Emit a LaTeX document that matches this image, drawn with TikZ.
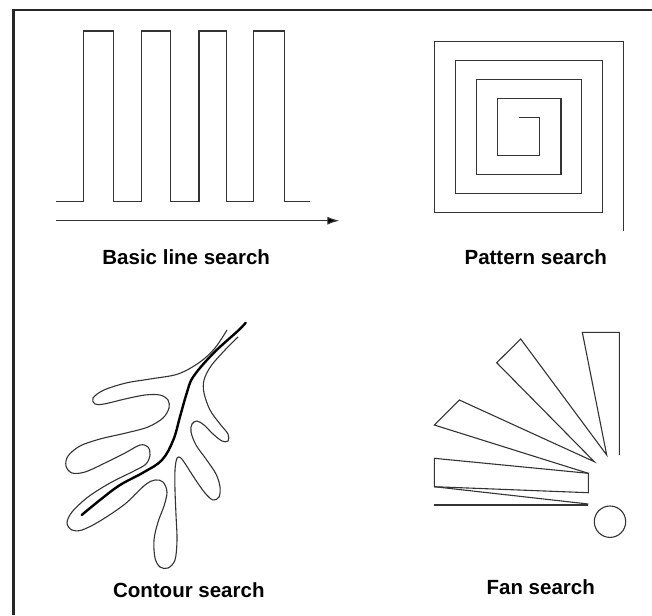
\documentclass[tikz,border=0pt]{standalone}
\usepackage{fontspec}
\setmainfont{Liberation Sans}
\usetikzlibrary{arrows.meta}

\begin{document}
\begin{tikzpicture}[x=1pt, y=-1pt,
  thin line/.style={draw=black!80, line width=1.1pt, line join=miter},
  caption/.style={font=\bfseries\fontsize{20.5}{24}\selectfont, anchor=base, inner sep=0pt}]
\useasboundingbox (0,0) rectangle (652,615);
% frame
\draw[line width=2.8pt, black!85] (13.5,615) -- (13.5,10) -- (652,10);
% basic line search
\draw[thin line] (56,201.7) -- (83.3,201.7) -- (83.3,31) -- (113.3,31) -- (113.3,201.7)
  -- (141.7,201.7) -- (141.7,31) -- (170.7,31) -- (170.7,201.7)
  -- (199,201.7) -- (199,31) -- (226.7,31) -- (226.7,201.7)
  -- (253.3,201.7) -- (253.3,31) -- (284.3,31) -- (284.3,201.7) -- (310,201.7);
\draw[thin line, -{Latex[length=12pt,width=8pt,fill=black]}] (56,220.7) -- (339.3,220.7);
\node[caption] (basic) at (186.2,264.3) {Basic line search};
% pattern search (square spiral)
\draw[thin line] (519,117.7) -- (539.3,117.7) -- (539.3,155.3) -- (497.7,155.3)
  -- (497.7,98.7) -- (561,98.7) -- (561,174.3) -- (476.7,174.3)
  -- (476.7,79.7) -- (581.7,79.7) -- (581.7,193.3) -- (455.7,193.3)
  -- (455.7,60.7) -- (602.3,60.7) -- (602.3,212.3) -- (434.3,212.3)
  -- (434.3,41.7) -- (623.3,41.7) -- (623.3,230.7);
\node[caption] (pattern) at (535.8,264.3) {Pattern search};
% contour search (leaf outline and midrib)
\draw[thin line] plot[smooth, tension=0.55] coordinates {
  (227,330) (215,348) (200,362) (178,374) (150,379) (126,383) (104,390) (93,398)
  (95,404) (104,404) (125,399) (145,395) (160,395) (168,400) (169,408) (163,418)
  (148,427) (126,433) (100,439) (80,446) (68,456) (66,466) (72,473) (85,472)
  (105,463) (125,453) (140,445) (148,447) (150,455) (146,464) (134,471) (110,483)
  (88,497) (72,512) (67,523) (72,530) (82,530) (100,521) (125,504) (145,485)
  (155,480) (163,482) (167,492) (164,506) (158,522) (154,540) (155,558) (160,567)
  (168,568) (175,560) (177,540) (176,515) (175,490) (175,470) (177,458) (181,458)
  (186,465) (195,479) (205,493) (213,500) (219,497) (220,487) (216,474) (206,459)
  (196,445) (191,432) (192,424) (197,421) (204,425) (213,434) (222,441) (228,441)
  (228,434) (220,424) (210,410) (204,393) (204,380) (211,366) (225,350) (238,337)};
\draw[line width=2.4pt, line cap=round] plot[smooth, tension=0.6] coordinates {
  (245.7,322.7) (238.3,330.5) (213.3,353.3) (193.3,376.7) (186.7,393.3) (180,416.7)
  (173.3,440) (162,460) (143.3,472.5) (120,485) (100,500) (81.7,515)};
\node[caption] (contour) at (188.8,597.7) {Contour search};
% fan search
\draw[thin line] (619.3,455) -- (619.3,332.3) -- (582.3,332.3) -- (606.7,455)
  -- (520.7,339) -- (496.7,362.7) -- (594.3,461.7) -- (459.3,400) -- (434.3,425)
  -- (588.3,473.3);
\draw[thin line] (434.3,458.3) -- (588.3,473.3) -- (588.3,492.7) -- (434.3,486.7) -- cycle;
\draw[thin line] (434.3,486.7) -- (588.3,504);
\draw[thin line] (434.3,505) -- (588.3,505);
\draw[thin line] (610,521.7) circle (15.7);
\node[caption] (fan) at (540.7,594) {Fan search};
\end{tikzpicture}
\end{document}
